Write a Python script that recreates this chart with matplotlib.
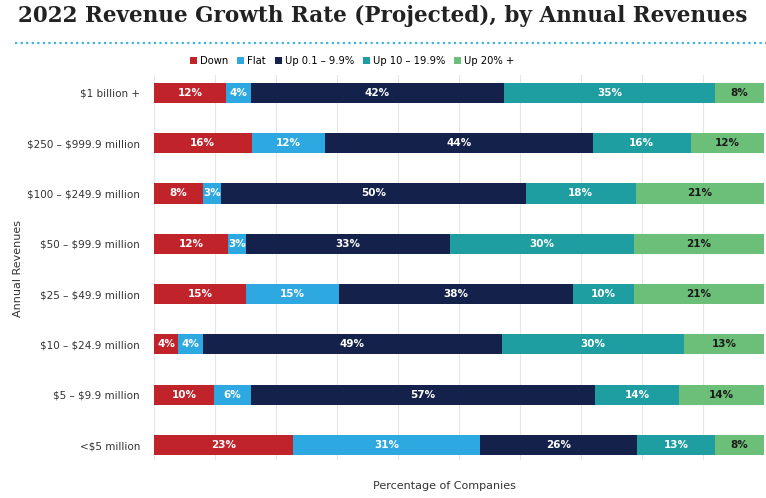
import matplotlib.pyplot as plt
import numpy as np
from matplotlib.lines import Line2D

# categories top to bottom
revenues = ['$1 billion +', '$250 – $999.9 million', '$100 – $249.9 million',
            '$50 – $99.9 million', '$25 – $49.9 million', '$10 – $24.9 million',
            '$5 – $9.9 million', '<$5 million']
series = ['Down', 'Flat', 'Up 0.1 – 9.9%', 'Up 10 – 19.9%', 'Up 20% +']

down  = [12, 16, 8, 12, 15, 4, 10, 23]
flat  = [4, 12, 3, 3, 15, 4, 6, 31]
up1   = [42, 44, 50, 33, 38, 49, 57, 26]
up10  = [35, 16, 18, 30, 10, 30, 14, 13]
up20  = [8, 12, 21, 21, 21, 13, 14, 8]

colors = ['#c1232b', '#2ea8e0', '#14214a', '#1f9ea2', '#6cbf78']
txtcol = ['white', 'white', 'white', 'white', '#1a1a1a']

vals = np.array([down, flat, up1, up10, up20], dtype=float)
frac = vals / vals.sum(axis=0)   # 100% stacked

fig = plt.figure(figsize=(7.66, 4.98), dpi=100)
ax = fig.add_axes([0.201, 0.076, 0.796, 0.773])

y = np.arange(len(revenues))
left = np.zeros(len(revenues))
for k in range(len(series)):
    ax.barh(y, frac[k], left=left, height=0.4, color=colors[k], label=series[k], zorder=3)
    for i in range(len(revenues)):
        ax.text(left[i] + frac[k][i]/2, y[i], '%d%%' % vals[k][i], ha='center', va='center',
                fontsize=7.5, fontweight='bold', color=txtcol[k], zorder=4)
    left += frac[k]

ax.set_xlim(0, 1.0)
ax.set_ylim(7.3, -0.35)
ax.set_xticks(np.arange(0, 1.01, 0.1))
ax.set_xticklabels([])
ax.grid(axis='x', color='#e6e6e6', lw=0.8, zorder=0)
ax.set_yticks(y)
ax.set_yticklabels([r.replace('$', r'\$') for r in revenues], fontsize=7.5, color='#333333')
ax.tick_params(length=0, pad=10)
for sp in ax.spines.values():
    sp.set_visible(False)

ax.set_xlabel('Percentage of Companies', fontsize=8, color='#333333')
ax.xaxis.set_label_coords(0.477, -0.055)
fig.text(0.024, 0.46, 'Annual Revenues', rotation=90, fontsize=8, color='#333333', ha='center', va='center')

fig.text(0.5, 0.967, '2022 Revenue Growth Rate (Projected), by Annual Revenues',
         ha='center', va='center', fontsize=15.5, fontweight='bold', family='DejaVu Serif', color='#222222')
fig.add_artist(Line2D([0.02, 1.0], [0.913, 0.913], color='#3cb6e0', lw=1.6, ls=(0, (1, 1.5))))

ax.legend(loc='lower center', bbox_to_anchor=(0.325, 1.0), ncol=5, frameon=False, fontsize=7.2,
          handlelength=0.7, handleheight=0.7, handletextpad=0.3, columnspacing=0.9)

fig.savefig('out.png', dpi=100)
